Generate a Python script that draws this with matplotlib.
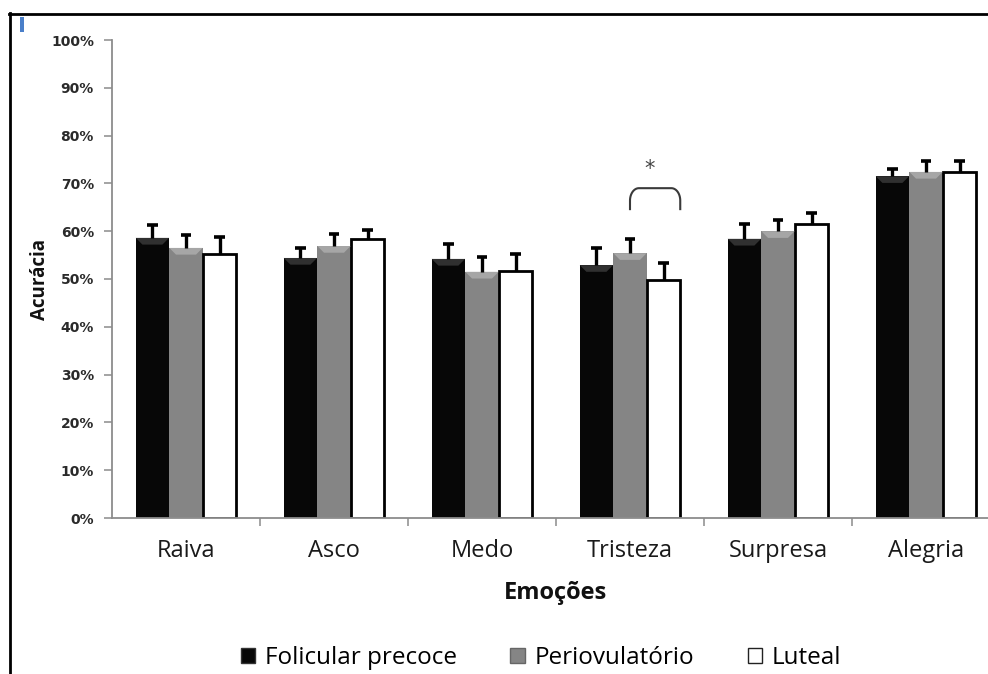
import numpy as np
import matplotlib
matplotlib.use("Agg")
import matplotlib.pyplot as plt
from matplotlib.patches import Polygon, Rectangle
from matplotlib.lines import Line2D

# Data: mean accuracy (%) and upper error (%) per emotion and cycle phase
emotions = ["Raiva", "Asco", "Medo", "Tristeza", "Surpresa", "Alegria"]
phases = ["Folicular precoce", "Periovulatório", "Luteal"]
folicular = [58.6, 54.4, 54.2, 52.9, 58.4, 71.5]
periovulatorio = [56.5, 56.9, 51.5, 55.4, 60.0, 72.4]
luteal = [55.2, 58.4, 51.7, 49.8, 61.5, 72.4]
folicular_err = [2.7, 2.1, 3.1, 3.6, 3.1, 1.5]
periovulatorio_err = [2.7, 2.5, 3.1, 3.0, 2.3, 2.3]
luteal_err = [3.6, 1.9, 3.5, 3.5, 2.3, 2.3]
yticks = [0, 10, 20, 30, 40, 50, 60, 70, 80, 90, 100]

W, H = 988, 674
fig = plt.figure(figsize=(W / 100, H / 100), dpi=100)
fig.patch.set_facecolor("white")

ax = fig.add_axes([112 / W, (H - 518) / H, 888 / W, 478 / H])
ax.set_facecolor("white")

x = np.arange(len(emotions))
bw = 0.225
off = 0.227
cap = 0.037
series = [
    (folicular, folicular_err, "#070707", "#070707", "#303030"),
    (periovulatorio, periovulatorio_err, "#858585", "#858585", "#a6a6a6"),
    (luteal, luteal_err, "white", "black", None),
]
for i, (vals, errs, fc, ec, bevel) in enumerate(series):
    xs = x + (i - 1) * off
    lw = 2.0 if fc == "white" else 0
    ax.bar(xs, vals, width=bw, color=fc, edgecolor=ec, linewidth=lw,
           zorder=2, label=phases[i])
    if bevel is not None:
        # bevel highlight along the top edge of the filled bars
        for xc, v in zip(xs, vals):
            h = 1.4
            inset = 0.045
            poly = Polygon([(xc - bw / 2, v), (xc + bw / 2, v),
                            (xc + bw / 2 - inset, v - h),
                            (xc - bw / 2 + inset, v - h)],
                           closed=True, facecolor=bevel, edgecolor="none",
                           zorder=2.5)
            ax.add_patch(poly)
    # upward-only error bars with a cap at the top
    tops = np.array(vals) + np.array(errs)
    ax.vlines(xs, vals, tops, color="black", lw=2.4, zorder=3)
    ax.hlines(tops, xs - cap, xs + cap, color="black", lw=2.6, zorder=3)

ax.set_xlim(-0.5, len(emotions) - 0.5)
ax.set_ylim(0, 100)

axis_grey = "#8c8c8c"
for s in ["top", "right"]:
    ax.spines[s].set_visible(False)
for s in ["left", "bottom"]:
    ax.spines[s].set_color(axis_grey)
    ax.spines[s].set_linewidth(1.3)

ax.set_yticks(yticks)
ax.set_yticklabels([f"{v}%" for v in yticks], fontsize=10,
                   fontweight="bold", color="#2a2a2a",
                   family="DejaVu Sans")
ax.tick_params(axis="y", length=6, width=1.1, color=axis_grey, pad=7)

ax.set_xticks(x)
ax.set_xticklabels(emotions, fontsize=17, color="#1a1a1a", family="Open Sans")
ax.tick_params(axis="x", which="major", length=0, pad=15)
ax.set_xticks(np.arange(0.5, len(emotions) - 0.5, 1.0), minor=True)
ax.tick_params(axis="x", which="minor", length=6, width=1.1, color=axis_grey)

ax.set_ylabel("Acurácia", fontsize=13.5, fontweight="bold", family="Open Sans",
              color="#111111", va="center")
ax.yaxis.set_label_coords((40 - 112) / 888, 0.5)
fig.text(555 / W, 1 - 593 / H, "Emoções", fontsize=17, fontweight="bold",
         family="Open Sans", ha="center", va="center", color="#111111")

# significance bracket between Periovulatório and Luteal for Tristeza
k = emotions.index("Tristeza")
x0 = k
x1 = k + off + bw / 2
y_top = 69.0
y_low = 64.4
rx, ry = 0.06, 2.6
t = np.linspace(0, np.pi / 2, 20)
left_arc = np.column_stack([x0 + rx - rx * np.cos(t), y_top - ry + ry * np.sin(t)])
right_arc = np.column_stack([x1 - rx + rx * np.sin(t), y_top - ry + ry * np.cos(t)])
path = np.vstack([[x0, y_low], left_arc, right_arc, [x1, y_low]])
ax.plot(path[:, 0], path[:, 1], color="#3a3a3a", lw=1.5, zorder=3,
        solid_capstyle="butt")
ax.text((x0 + x1) / 2 - 0.04, 73.0, "*", fontsize=15, color="#444444",
        ha="center", va="center", family="DejaVu Sans")

# legend along the bottom edge
handles = [Rectangle((0, 0), 1, 1, facecolor="#070707", edgecolor="#333333", lw=1),
           Rectangle((0, 0), 1, 1, facecolor="#858585", edgecolor="#666666", lw=1),
           Rectangle((0, 0), 1, 1, facecolor="white", edgecolor="#222222", lw=1)]
fig.legend(handles, phases, loc="center", bbox_to_anchor=(541 / W, 1 - 658 / H),
           ncol=3, frameon=False, handlelength=0.6, handleheight=0.6,
           handletextpad=0.4, columnspacing=2.2,
           prop={"family": "Open Sans", "size": 17.5})

# outer frame (left and top edges) and small blue marker
fig.add_artist(Line2D([10 / W, 10 / W], [0, 1 - 13 / H], color="black", lw=2.0,
                      transform=fig.transFigure))
fig.add_artist(Line2D([9 / W, 1], [1 - 14 / H, 1 - 14 / H], color="black", lw=2.0,
                      transform=fig.transFigure))
fig.add_artist(Rectangle((20 / W, 1 - 32 / H), 4 / W, 15 / H,
                         facecolor="#4a7fc9", edgecolor="none",
                         transform=fig.transFigure))

fig.savefig("out.png", dpi=100)
